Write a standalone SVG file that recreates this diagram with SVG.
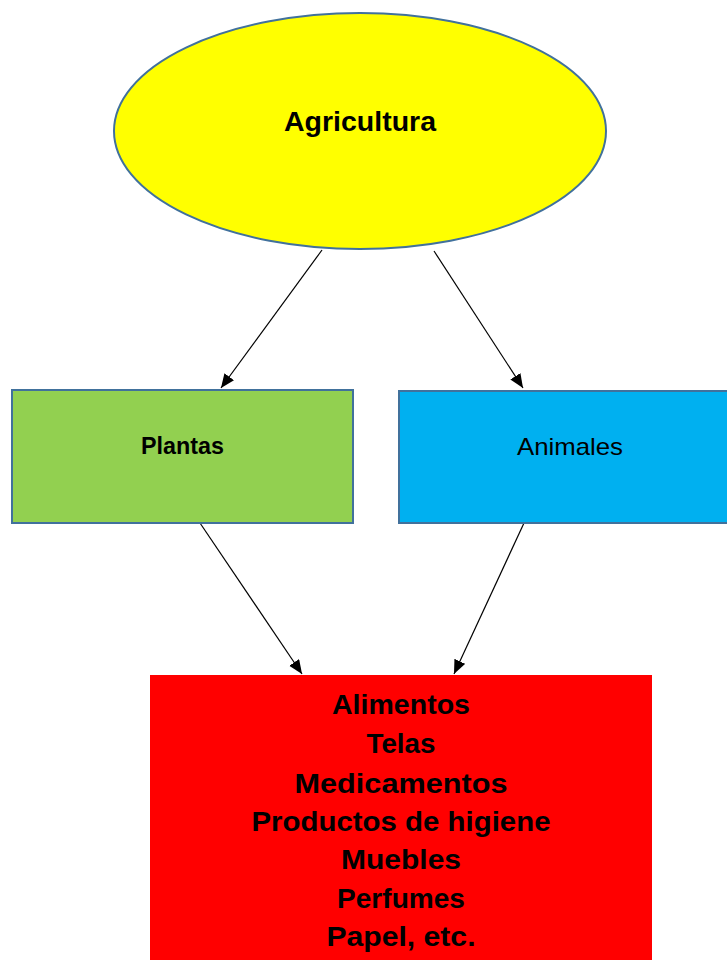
<svg xmlns="http://www.w3.org/2000/svg" width="727" height="960" viewBox="0 0 727 960">
<style>
.shape{stroke:#41719C;stroke-width:2}
.conn{stroke:#000;stroke-width:1.2;fill:none;marker-end:url(#arrow)}
.big{font-family:"Liberation Sans",Arial,sans-serif;font-weight:bold;font-size:28px;fill:#000;text-anchor:middle}
.box{font-family:"Liberation Sans",Arial,sans-serif;font-size:24px;fill:#000;text-anchor:middle}
</style>
<defs>
<marker id="arrow" markerUnits="userSpaceOnUse" markerWidth="15" markerHeight="13" refX="14" refY="6" orient="auto">
<path d="M0,0 L14,6 L0,12 z" fill="#000"/>
</marker>
</defs>
<rect width="727" height="960" fill="#fff"/>
<g id="connectors">
<line class="conn" x1="322" y1="250" x2="221" y2="388"/>
<line class="conn" x1="434" y1="251" x2="523" y2="388"/>
<line class="conn" x1="200" y1="523" x2="302" y2="674"/>
<line class="conn" x1="524" y1="523" x2="454" y2="674"/>
</g>
<g id="agricultura">
<ellipse class="shape" cx="360" cy="131" rx="246" ry="118" fill="#FFFF00"/>
<text class="big" x="360" y="131" textLength="152" lengthAdjust="spacingAndGlyphs">Agricultura</text>
</g>
<g id="plantas">
<rect class="shape" x="12" y="390" width="341" height="133" fill="#92D050"/>
<text class="box" x="182.5" y="454" font-weight="bold" textLength="83" lengthAdjust="spacingAndGlyphs">Plantas</text>
</g>
<g id="animales">
<rect class="shape" x="399" y="391" width="342" height="132" fill="#00B0F0"/>
<text class="box" x="570" y="455" textLength="106" lengthAdjust="spacingAndGlyphs">Animales</text>
</g>
<g id="productos">
<rect x="150" y="675" width="502" height="290" fill="#FF0000"/>
<text class="big" x="401" y="714" textLength="138" lengthAdjust="spacingAndGlyphs">Alimentos</text>
<text class="big" x="401" y="753" textLength="69" lengthAdjust="spacingAndGlyphs">Telas</text>
<text class="big" x="401" y="793" textLength="213" lengthAdjust="spacingAndGlyphs">Medicamentos</text>
<text class="big" x="401" y="831" textLength="299" lengthAdjust="spacingAndGlyphs">Productos de higiene</text>
<text class="big" x="401" y="869" textLength="120" lengthAdjust="spacingAndGlyphs">Muebles</text>
<text class="big" x="401" y="908" textLength="128" lengthAdjust="spacingAndGlyphs">Perfumes</text>
<text class="big" x="401" y="946" textLength="149" lengthAdjust="spacingAndGlyphs">Papel, etc.</text>
</g>
</svg>
